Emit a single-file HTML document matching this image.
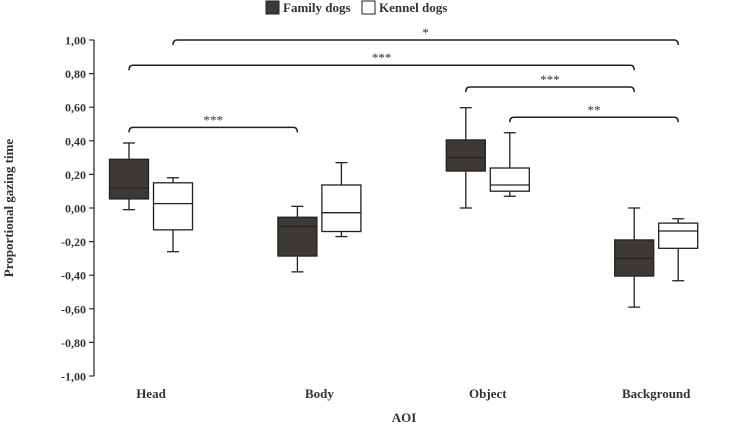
<!DOCTYPE html>
<html><head><meta charset="utf-8"><style>
body{margin:0;background:#fff}
svg{display:block;font-family:"Liberation Serif",serif}
</style></head><body>
<svg id="c" width="745" height="425">
<g id="legend">
<rect x="266" y="1" width="13" height="13" fill="#3d3935" stroke="#222"/>
<text x="283" y="12" font-size="13" font-weight="bold" fill="#333">Family dogs</text>
<rect x="362" y="1" width="13" height="13" fill="#fff" stroke="#222"/>
<text x="379" y="12" font-size="13" font-weight="bold" fill="#333">Kennel dogs</text>
</g>
<text transform="translate(13,208) rotate(-90)" text-anchor="middle" font-size="13" font-weight="bold" fill="#333">Proportional gazing time</text>
<text x="404" y="422" text-anchor="middle" font-size="13" font-weight="bold" fill="#333">AOI</text>
</svg>
<script>
const categories=["Head","Body","Object","Background"];
const familyStats=[[-0.01,0.054,0.12,0.29,0.387],[-0.38,-0.286,-0.11,-0.055,0.01],[0,0.22,0.30,0.405,0.597],[-0.59,-0.405,-0.30,-0.19,0]];
const kennelStats=[[-0.26,-0.13,0.026,0.15,0.18],[-0.17,-0.14,-0.028,0.137,0.27],[0.07,0.10,0.137,0.238,0.448],[-0.433,-0.24,-0.137,-0.09,-0.064]];
const yTicks=[1,0.8,0.6,0.4,0.2,0,-0.2,-0.4,-0.6,-0.8,-1];
const brackets=[["*",0,"k",3,"k",1.0],["***",0,"f",3,"f",0.85],["***",2,"f",3,"f",0.72],["**",2,"k",3,"k",0.54],["***",0,"f",1,"f",0.48]];
const NS="http://www.w3.org/2000/svg";
const svg=document.getElementById('c');
const y=v=>208-v*168;
const xc=i=>151+i*168.4;
function mk(t,a,p){const e=document.createElementNS(NS,t);for(const k in a)e.setAttribute(k,a[k]);(p||svg).appendChild(e);return e;}
// axis
const ax=mk('line',{x1:94,y1:y(1),x2:94,y2:y(-1),stroke:'#333','stroke-width':1.3});


yTicks.forEach(v=>{
 const t=mk('line',{x1:89,y1:y(v),x2:94,y2:y(v),stroke:'#333','stroke-width':1.2});
 
 
 const l=mk('text',{x:86,y:y(v)+4.5,'text-anchor':'end','font-size':12,'font-weight':'bold',fill:'#333'});
 l.textContent=v.toFixed(2).replace('.',',');
 
 
});
categories.forEach((c,i)=>{
 const l=mk('text',{x:xc(i),y:398,'text-anchor':'middle','font-size':13,'font-weight':'bold',fill:'#333'});
 l.textContent=c;
 
 
});
function box(s,cx,fill,name){
 const g=mk('g',{});
 
 
 const st={stroke:'#222','stroke-width':1.3};
 mk('line',Object.assign({x1:cx,x2:cx,y1:y(s[4]),y2:y(s[3])},st),g);
 mk('line',Object.assign({x1:cx,x2:cx,y1:y(s[1]),y2:y(s[0])},st),g);
 mk('line',Object.assign({x1:cx-6,x2:cx+6,y1:y(s[4]),y2:y(s[4])},st),g);
 mk('line',Object.assign({x1:cx-6,x2:cx+6,y1:y(s[0]),y2:y(s[0])},st),g);
 mk('rect',Object.assign({x:cx-19.5,width:39,y:y(s[3]),height:y(s[1])-y(s[3]),fill:fill},st),g);
 mk('line',Object.assign({x1:cx-19.5,x2:cx+19.5,y1:y(s[2]),y2:y(s[2])},st),g);
}
categories.forEach((c,i)=>{
 box(familyStats[i],xc(i)-22,'#3d3935','box-family-'+c.toLowerCase());
 box(kennelStats[i],xc(i)+22,'#fff','box-kennel-'+c.toLowerCase());
});
brackets.forEach(b=>{
 const x1=xc(b[1])+(b[2]=='f'?-22:22), x2=xc(b[3])+(b[4]=='f'?-22:22), yy=y(b[5]);
 const p=mk('path',{d:`M${x1},${yy+5}Q${x1},${yy} ${x1+4},${yy}L${x2-4},${yy}Q${x2},${yy} ${x2},${yy+5}`,fill:'none',stroke:'#222','stroke-width':1.5});
 
 
 const t=mk('text',{x:(x1+x2)/2,y:yy-3,'text-anchor':'middle','font-size':13,fill:'#333'});
 t.textContent=b[0];
 
 
});
</script>
</body></html>
